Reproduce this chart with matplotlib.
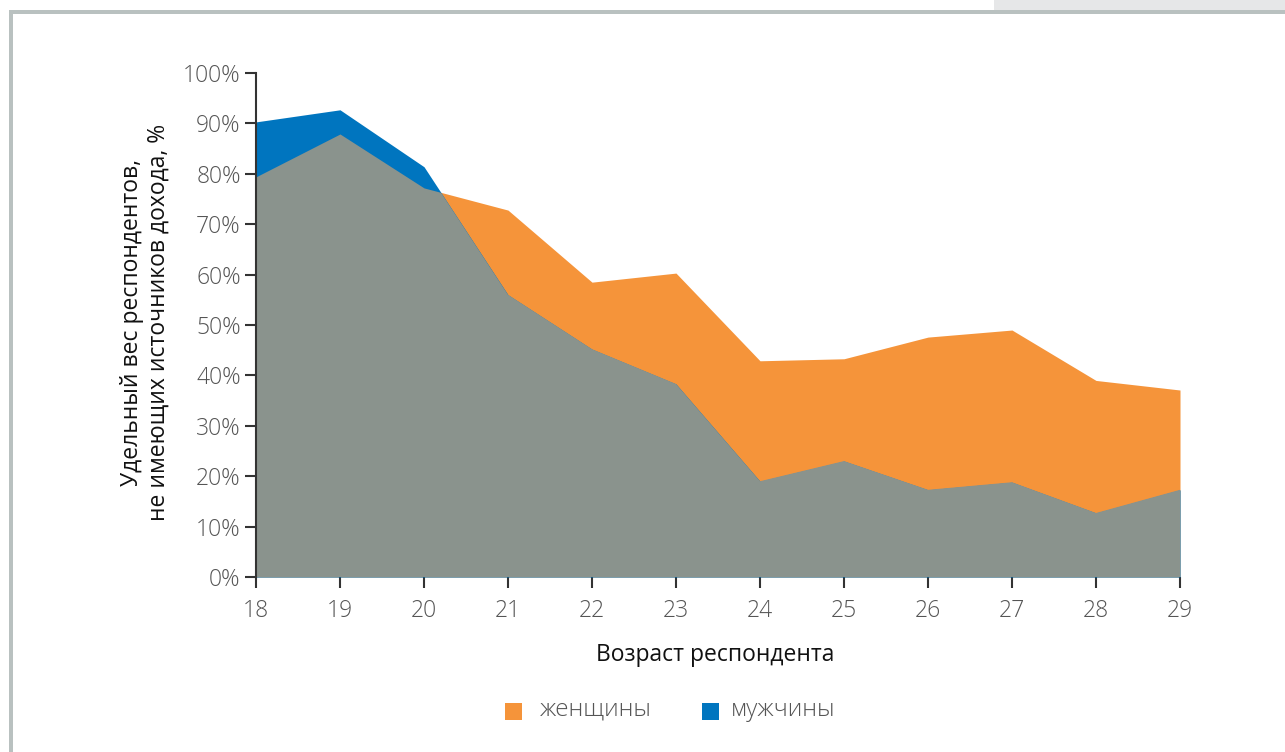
import numpy as np
import matplotlib
matplotlib.use("Agg")
import matplotlib.pyplot as plt
from matplotlib.patches import Rectangle

ages = [18, 19, 20, 21, 22, 23, 24, 25, 26, 27, 28, 29]
women = [79.4, 87.9, 77.2, 72.8, 58.5, 60.3, 42.9, 43.3, 47.6, 49.0, 39.0, 37.1]
men = [90.3, 92.7, 81.4, 56.0, 45.2, 38.3, 19.0, 23.0, 17.3, 18.8, 12.7, 17.3]
yticks = [0, 10, 20, 30, 40, 50, 60, 70, 80, 90, 100]
ylabel = "Удельный вес респондентов,\nне имеющих источников дохода, %"
xlabel = "Возраст респондента"
legend_labels = ["женщины", "мужчины"]

C_W = "#F5943A"
C_M = "#0075BF"
C_G = "#8A938D"
TXT = "#555555"

plt.rcParams['font.family'] = ['Open Sans', 'DejaVu Sans']

W, H = 1285, 752
fig = plt.figure(figsize=(W / 100, H / 100), dpi=100)
ax = fig.add_axes([256 / W, 1 - 577 / H, (1180 - 256) / W, (577 - 73) / H])

# frame decorations
fig.add_artist(Rectangle((994 / W, 1 - 11 / H), (W - 994) / W, 11 / H,
                         transform=fig.transFigure, facecolor="#E6E7E8", edgecolor="none"))
fig.add_artist(Rectangle((9 / W, 1 - 14 / H), (W - 9) / W, 3.5 / H,
                         transform=fig.transFigure, facecolor="#B9C1C0", edgecolor="none"))
fig.add_artist(Rectangle((9 / W, 0), 4 / W, 1 - 11 / H,
                         transform=fig.transFigure, facecolor="#B9C1C0", edgecolor="none"))

x = np.array(ages)
w = np.array(women)
m = np.array(men)

ax.fill_between(x, 0, w, color=C_W, linewidth=0, zorder=1)
men_coll = ax.fill_between(x, 0, m, color=C_M, linewidth=0, zorder=2)
gray = ax.fill_between(x, 0, w, color=C_G, linewidth=0, zorder=3)
gray.set_clip_path(men_coll.get_paths()[0], ax.transData)

ax.set_xlim(18, 29)
ax.set_ylim(0, 100)
ax.set_xticks(ages)
ax.set_xticklabels([str(a) for a in ages])
ax.set_yticks(yticks)
ax.set_yticklabels([f"{v}%" for v in yticks])

for s in ["top", "right", "bottom"]:
    ax.spines[s].set_visible(False)
ax.spines["left"].set_color("#333333")
ax.spines["left"].set_linewidth(1.5)
ax.spines["left"].set_zorder(5)
ax.tick_params(axis="both", direction="out", length=8, width=1.5, color="#333333",
               labelsize=16.5, labelcolor=TXT, pad=3)
ax.tick_params(axis="x", pad=8)
for lab in ax.get_xticklabels() + ax.get_yticklabels():
    lab.set_fontweight("light")
ax.set_facecolor("none")

fig.text(145 / W, 1 - 322 / H, ylabel, rotation=90, ha="center", va="center",
         fontsize=16.5, color="#111111", fontweight="medium", linespacing=1.15)
fig.text(715 / W, 1 - 655 / H, xlabel, ha="center", va="center",
         fontsize=16.5, color="#111111", fontweight="medium")

# legend
fig.add_artist(Rectangle((505 / W, 1 - 720 / H), 17 / W, 17 / H,
                         transform=fig.transFigure, facecolor=C_W, edgecolor="none"))
fig.text(540 / W, 1 - 710 / H, legend_labels[0], ha="left", va="center",
         fontsize=17.5, color=TXT, fontweight="light")
fig.add_artist(Rectangle((702 / W, 1 - 720 / H), 17 / W, 17 / H,
                         transform=fig.transFigure, facecolor=C_M, edgecolor="none"))
fig.text(731 / W, 1 - 710 / H, legend_labels[1], ha="left", va="center",
         fontsize=17.5, color=TXT, fontweight="light")

fig.savefig("out.png", dpi=100, facecolor="white")
